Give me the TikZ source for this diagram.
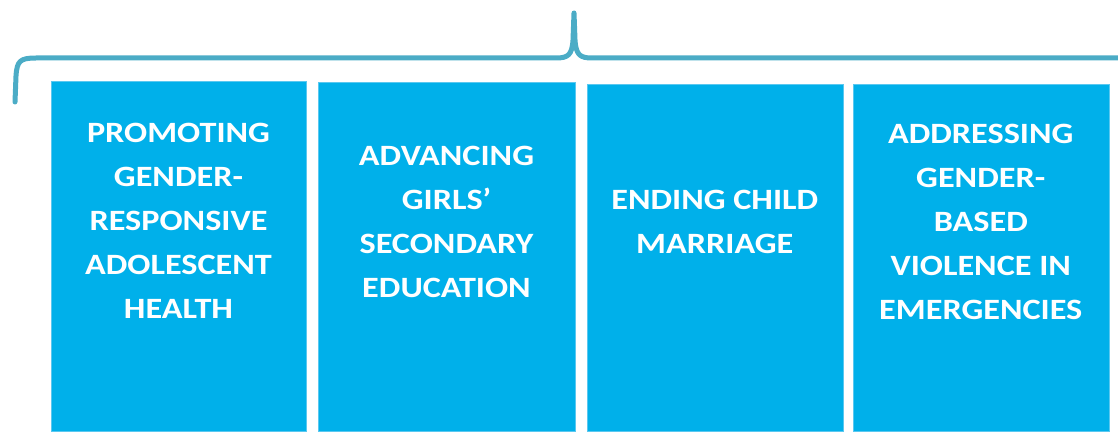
\documentclass[tikz,border=0pt]{standalone}
\usepackage{fontspec}
\setmainfont{Carlito}
\newfontfamily\lblfont[FakeStretch=1.16]{Carlito}
\definecolor{boxblue}{RGB}{0,176,234}
\definecolor{boxedge}{RGB}{90,200,240}
\definecolor{braceteal}{RGB}{75,172,198}
\begin{document}
\begin{tikzpicture}[x=1pt,y=1pt,
  pillar/.style={fill=boxblue, draw=boxedge, line width=0.6pt, inner sep=0pt, anchor=south west},
  lbl/.style={text=white, align=center, inner sep=0pt, font=\lblfont\fontsize{29.5}{44}\selectfont\bfseries},
  bracestroke/.style={draw=braceteal, line width=5pt, line cap=round, line join=round}]
\path[use as bounding box] (0,0) rectangle (1118,432);
% pillars (y measured upward from the bottom edge)
\node[pillar, minimum width=255pt, minimum height=350pt] (b1) at (51,0) {};
\node[pillar, minimum width=257pt, minimum height=349pt] (b2) at (318,0) {};
\node[pillar, minimum width=255.5pt, minimum height=347pt] (b3) at (587,0) {};
\node[pillar, minimum width=255.5pt, minimum height=347pt] (b4) at (853,0) {};
% labels
\node[lbl] (t1) at (178.5,211) {PROMOTING\\GENDER-\\RESPONSIVE\\ADOLESCENT\\HEALTH};
\node[lbl] (t2) at (446.5,210) {ADVANCING\\GIRLS’\\SECONDARY\\EDUCATION};
\node[lbl] (t3) at (714.75,210) {ENDING CHILD\\MARRIAGE};
\node[lbl] (t4) at (980.75,210) {ADDRESSING\\GENDER-\\BASED\\VIOLENCE IN\\EMERGENCIES};
% brace
\coordinate (bl) at (15,330);
\coordinate (tip) at (574,419);
\coordinate (br) at (1118,374);
\draw[bracestroke] (bl) -- (16,356) .. controls (17,371) and (20,374) .. (36,374)
  -- (556,374) .. controls (568,374) and (572,377) .. (573,392) -- (tip)
  -- (575,392) .. controls (576,377) and (580,374) .. (592,374) -- (br);
\end{tikzpicture}
\end{document}
